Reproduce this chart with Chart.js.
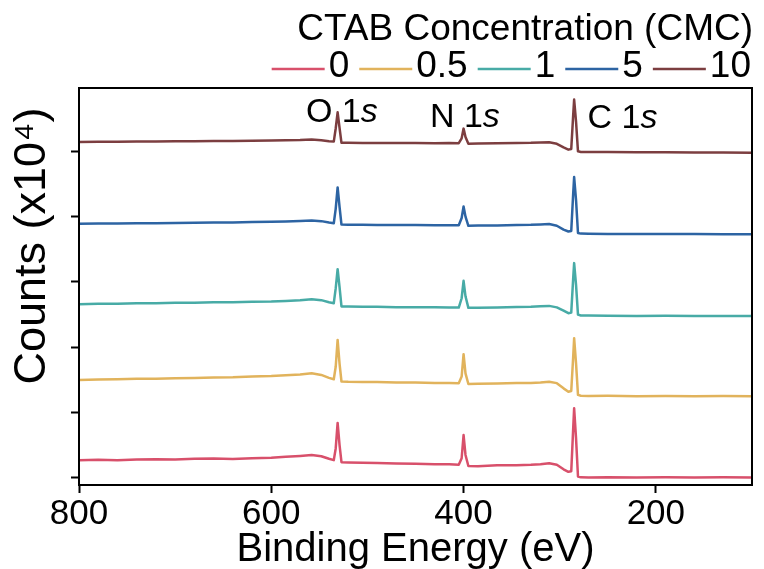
<!DOCTYPE html>
<html>
<head>
<meta charset="utf-8">
<script src="https://cdn.jsdelivr.net/npm/chart.js@4.4.1/dist/chart.umd.min.js"></script>
<style>
  html, body { margin: 0; padding: 0; background: #ffffff; }
  #wrap { width: 764px; height: 569px; position: relative; }
</style>
</head>
<body>
<div id="wrap"><canvas id="xps"></canvas></div>
<script>
// Binding energy grid (eV) shared by every survey spectrum
const energies = [800, 780, 760, 740, 720, 700, 680, 660, 640, 620, 600, 585, 570, 558, 548, 540, 535, 533, 531, 529, 527,
  520, 505, 490, 470, 450, 430, 415, 405, 402, 400, 398, 395, 385, 365, 345, 330, 320, 311, 303, 296, 291, 288, 286, 285,
  283, 281, 278, 270, 250, 220, 190, 160, 130, 100];

// Counts (x10^4), each spectrum stacked with its own offset
const cmc0 = [0.270, 0.276, 0.268, 0.281, 0.284, 0.279, 0.291, 0.294, 0.289, 0.301, 0.309, 0.321, 0.336, 0.349, 0.331, 0.292, 0.271, 0.450, 0.840, 0.500, 0.240,
  0.236, 0.229, 0.226, 0.219, 0.216, 0.209, 0.206, 0.199, 0.300, 0.655, 0.350, 0.181, 0.179, 0.191, 0.194, 0.201, 0.209, 0.224, 0.200, 0.130, 0.092, 0.100, 0.750, 1.064,
  0.600, 0.020, 0.007, 0.004, 0.009, 0.005, 0.008, 0.004, 0.007, 0.006];
const cmc05 = [1.498, 1.506, 1.509, 1.516, 1.519, 1.526, 1.529, 1.536, 1.539, 1.551, 1.559, 1.571, 1.584, 1.601, 1.576, 1.531, 1.509, 1.700, 2.112, 1.750, 1.475,
  1.471, 1.469, 1.466, 1.459, 1.461, 1.454, 1.451, 1.448, 1.550, 1.893, 1.600, 1.437, 1.441, 1.444, 1.451, 1.454, 1.461, 1.472, 1.450, 1.370, 1.319, 1.330, 1.850, 2.138,
  1.750, 1.270, 1.256, 1.252, 1.255, 1.251, 1.254, 1.249, 1.252, 1.250];
const cmc1 = [2.660, 2.666, 2.667, 2.673, 2.674, 2.681, 2.683, 2.689, 2.690, 2.696, 2.700, 2.709, 2.719, 2.736, 2.721, 2.689, 2.675, 2.900, 3.196, 2.920, 2.625,
  2.623, 2.619, 2.618, 2.614, 2.613, 2.611, 2.610, 2.608, 2.750, 3.017, 2.780, 2.603, 2.606, 2.609, 2.616, 2.619, 2.626, 2.633, 2.610, 2.560, 2.521, 2.530, 3.050, 3.288,
  2.950, 2.500, 2.485, 2.484, 2.481, 2.480, 2.482, 2.479, 2.480, 2.480];
const cmc5 = [3.891, 3.894, 3.894, 3.899, 3.900, 3.904, 3.905, 3.909, 3.910, 3.916, 3.920, 3.926, 3.934, 3.942, 3.931, 3.909, 3.899, 4.120, 4.448, 4.150, 3.878,
  3.877, 3.874, 3.873, 3.871, 3.870, 3.869, 3.868, 3.867, 3.980, 4.156, 4.000, 3.860, 3.863, 3.865, 3.871, 3.874, 3.881, 3.887, 3.860, 3.800, 3.773, 3.780, 4.350, 4.607,
  4.250, 3.750, 3.740, 3.739, 3.735, 3.734, 3.733, 3.733, 3.731, 3.730];
const cmc10 = [5.144, 5.147, 5.147, 5.151, 5.151, 5.155, 5.155, 5.159, 5.160, 5.164, 5.166, 5.170, 5.172, 5.180, 5.171, 5.154, 5.149, 5.350, 5.598, 5.360, 5.130,
  5.130, 5.127, 5.128, 5.126, 5.128, 5.125, 5.127, 5.125, 5.200, 5.348, 5.220, 5.118, 5.121, 5.124, 5.129, 5.131, 5.136, 5.138, 5.115, 5.060, 5.026, 5.035, 5.550, 5.793,
  5.450, 5.000, 4.991, 4.990, 4.988, 4.986, 4.985, 4.982, 4.981, 4.980];

const seriesLabels = ['0', '0.5', '1', '5', '10'];
const seriesValues = [cmc0, cmc05, cmc1, cmc5, cmc10];
const seriesColors = ['#d8506b', '#e1b35c', '#48aba6', '#2d64a3', '#7c3e40'];

const xTickValues = [800, 600, 400, 200];
const yTickValues = [0, 1, 2, 3, 4, 5];

// Core-level labels: element, orbital, anchor (eV, counts)
const coreLevels = [
  { el: 'O', orb: '1', sub: 's', e: 564, c: 5.456 },
  { el: 'N', orb: '1', sub: 's', e: 435, c: 5.379 },
  { el: 'C', orb: '1', sub: 's', e: 271, c: 5.363 }
];

const FONT = '"Liberation Sans", Arial, Helvetica, sans-serif';

const datasets = seriesValues.map((vals, i) => ({
  label: seriesLabels[i],
  data: energies.map((e, j) => ({ x: e, y: vals[j] })),
  borderColor: seriesColors[i],
  backgroundColor: seriesColors[i],
  borderWidth: 2.5,
  borderJoinStyle: 'round',
  pointRadius: 0,
  tension: 0,
  fill: false
}));

const decorations = {
  id: 'decorations',
  afterDatasetsDraw(chart) {
    const { ctx, chartArea: a, scales } = chart;
    ctx.save();
    // frame
    ctx.strokeStyle = '#000';
    ctx.lineWidth = 2;
    ctx.strokeRect(a.left, a.top, a.right - a.left, a.bottom - a.top);

    // core-level labels with italic orbital letter
    ctx.fillStyle = '#000';
    ctx.textBaseline = 'alphabetic';
    ctx.textAlign = 'left';
    coreLevels.forEach(p => {
      const x = scales.x.getPixelForValue(p.e);
      const y = scales.y.getPixelForValue(p.c);
      ctx.font = '34px ' + FONT;
      const head = p.el + ' ' + p.orb;
      ctx.fillText(head, x, y);
      const w = ctx.measureText(head).width;
      ctx.font = 'italic 34px ' + FONT;
      ctx.fillText(p.sub, x + w, y);
    });

    // legend: title above, one row of line samples
    ctx.font = '37px ' + FONT;
    ctx.textAlign = 'right';
    ctx.fillText('CTAB Concentration (CMC)', a.right + 1, 40);
    ctx.textAlign = 'left';
    let x = a.right - 1;
    const ds = chart.data.datasets;
    for (let i = ds.length - 1; i >= 0; i--) {
      const t = ds[i].label;
      const w = ctx.measureText(t).width;
      const tx = x - w;
      ctx.fillStyle = '#000';
      ctx.fillText(t, tx, 77);
      ctx.strokeStyle = ds[i].borderColor;
      ctx.lineWidth = 2.5;
      ctx.beginPath();
      ctx.moveTo(tx - 4 - 53, 69);
      ctx.lineTo(tx - 4, 69);
      ctx.stroke();
      x = tx - 4 - 53 - 10;
    }

    // y-axis title
    ctx.save();
    ctx.translate(33, 246);
    ctx.rotate(-Math.PI / 2);
    ctx.textAlign = 'center';
    ctx.textBaseline = 'middle';
    ctx.font = '45px ' + FONT;
    ctx.fillStyle = '#000';
    ctx.fillText('Counts (x10\u2074)', 0, 0);
    ctx.restore();
    ctx.restore();
  }
};

new Chart(document.getElementById('xps'), {
  type: 'line',
  data: { datasets },
  options: {
    responsive: true,
    maintainAspectRatio: false,
    animation: false,
    events: [],
    layout: { padding: { top: 88, right: 12, left: 71, bottom: 0 } },
    plugins: { legend: { display: false }, tooltip: { enabled: false } },
    scales: {
      x: {
        type: 'linear',
        reverse: true,
        min: 100,
        max: 800,
        afterBuildTicks: s => { s.ticks = xTickValues.map(v => ({ value: v })); },
        afterFit: s => { s.height = 84; },
        border: { display: false },
        grid: { drawOnChartArea: false, drawTicks: true, tickLength: 8, tickWidth: 2, tickColor: '#000' },
        ticks: { color: '#000', padding: 5, maxRotation: 0, font: { family: FONT, size: 35, lineHeight: 0.95 } },
        title: { display: true, text: 'Binding Energy (eV)', color: '#000', padding: { top: 0, bottom: 0 },
                 font: { family: FONT, size: 40, lineHeight: 0.95 } }
      },
      y: {
        type: 'linear',
        min: -0.11,
        max: 5.97,
        afterBuildTicks: s => { s.ticks = yTickValues.map(v => ({ value: v })); },
        afterFit: s => { s.width = 8; },
        border: { display: false },
        grid: { drawOnChartArea: false, drawTicks: true, tickLength: 8, tickWidth: 2, tickColor: '#000' },
        ticks: { display: false }
      }
    }
  },
  plugins: [decorations]
});
</script>
</body>
</html>
